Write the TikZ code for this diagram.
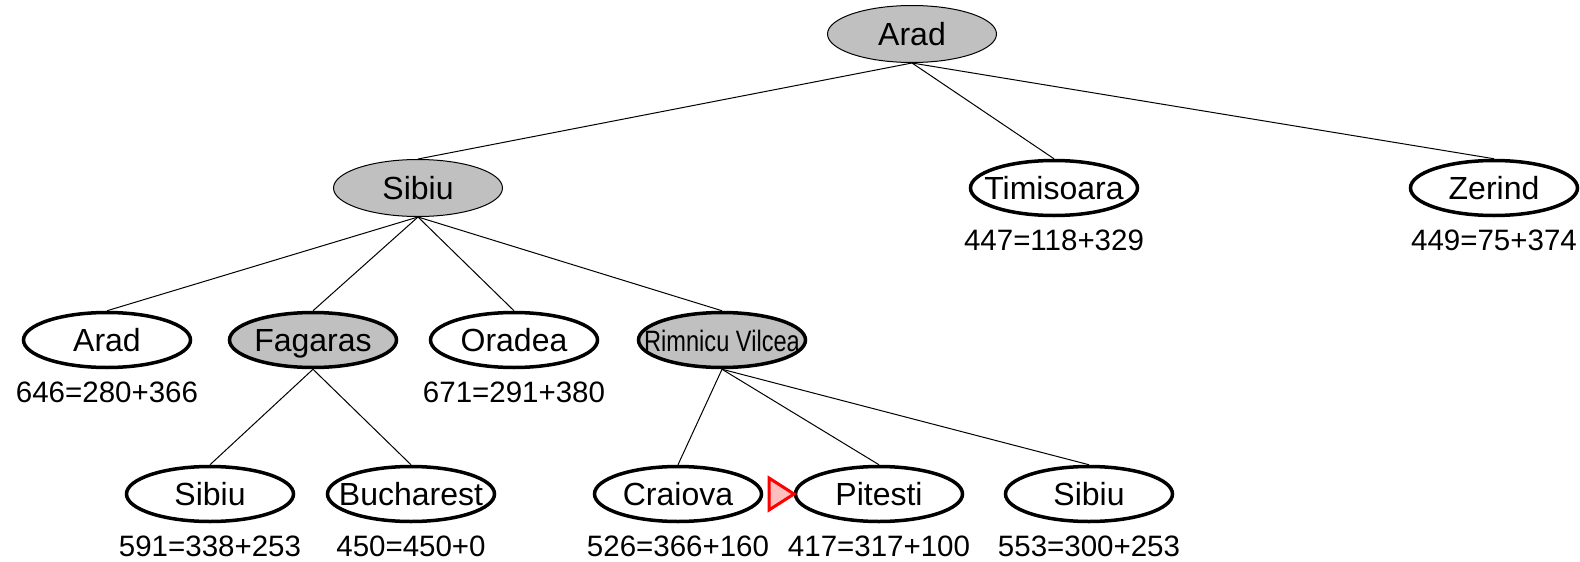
\documentclass[tikz,border=0pt]{standalone}
\usepackage{fontspec}
\setmainfont{Liberation Sans}
\usetikzlibrary{shapes.geometric}
\definecolor{nodegray}{HTML}{C0C0C0}
\newcommand{\nm}[1]{\makebox[0pt]{#1}}
\tikzset{
  city/.style={ellipse,draw,line width=3.5pt,minimum width=167pt,minimum height=55pt,
    inner sep=0pt,text height=23pt,text depth=0pt,font=\fontsize{32}{34}\selectfont},
  expd/.style={city,fill=nodegray},
  top/.style={expd,line width=1pt,minimum width=169pt,minimum height=57pt},
  fval/.style={inner sep=0pt,font=\fontsize{29.5}{32}\selectfont},
  edge/.style={line width=1pt}
}
\begin{document}
\begin{tikzpicture}[x=1pt,y=-1pt]
\useasboundingbox (0,0) rectangle (1580,562);
\node[top] (arad) at (912,34) {\nm{Arad}};

\node[top] (sibiu) at (418,188) {\nm{Sibiu}};
\node[city] (timi) at (1054,188) {\nm{Timisoara}};
\node[city] (zer) at (1494,188) {\nm{Zerind}};

\node[city] (arad2) at (107,340) {\nm{Arad}};
\node[expd] (fag) at (313,340) {\nm{Fagaras}};
\node[city] (ora) at (514,340) {\nm{Oradea}};
\node[expd] (rv) at (722,340) {\nm{\fontsize{29.5}{32}\selectfont\scalebox{0.8}[1]{Rimnicu Vilcea}}};

\node[city] (sib3) at (210,494) {\nm{Sibiu}};
\node[city] (buch) at (411,494) {\nm{Bucharest}};
\node[city] (crai) at (678,494) {\nm{Craiova}};
\node[city] (pit) at (879,494) {\nm{Pitesti}};
\node[city] (sib4) at (1089,494) {\nm{Sibiu}};

% f = g + h
\node[fval] (ftimi) at ([yshift=-52pt]timi) {447=118+329};
\node[fval] (fzer) at ([yshift=-52pt]zer) {449=75+374};
\node[fval] (farad2) at ([yshift=-52pt]arad2) {646=280+366};
\node[fval] (fora) at ([yshift=-52pt]ora) {671=291+380};
\node[fval] (fsib3) at ([yshift=-52pt]sib3) {591=338+253};
\node[fval] (fbuch) at ([yshift=-52pt]buch) {450=450+0};
\node[fval] (fcrai) at ([yshift=-52pt]crai) {526=366+160};
\node[fval] (fpit) at ([yshift=-52pt]pit) {417=317+100};
\node[fval] (fsib4) at ([yshift=-52pt]sib4) {553=300+253};

\draw[edge] (arad.south) -- (sibiu.north);
\draw[edge] (arad.south) -- (timi.north);
\draw[edge] (arad.south) -- (zer.north);
\draw[edge] (sibiu.south) -- (arad2.north);
\draw[edge] (sibiu.south) -- (fag.north);
\draw[edge] (sibiu.south) -- (ora.north);
\draw[edge] (sibiu.south) -- (rv.north);
\draw[edge] (fag.south) -- (sib3.north);
\draw[edge] (fag.south) -- (buch.north);
\draw[edge] (rv.south) -- (crai.north);
\draw[edge] (rv.south) -- (pit.north);
\draw[edge] (rv.south) -- (sib4.north);

\draw[red,line width=3pt,fill=red!25] (769,478) -- (794,494) -- (769,510) -- cycle;
\end{tikzpicture}
\end{document}
